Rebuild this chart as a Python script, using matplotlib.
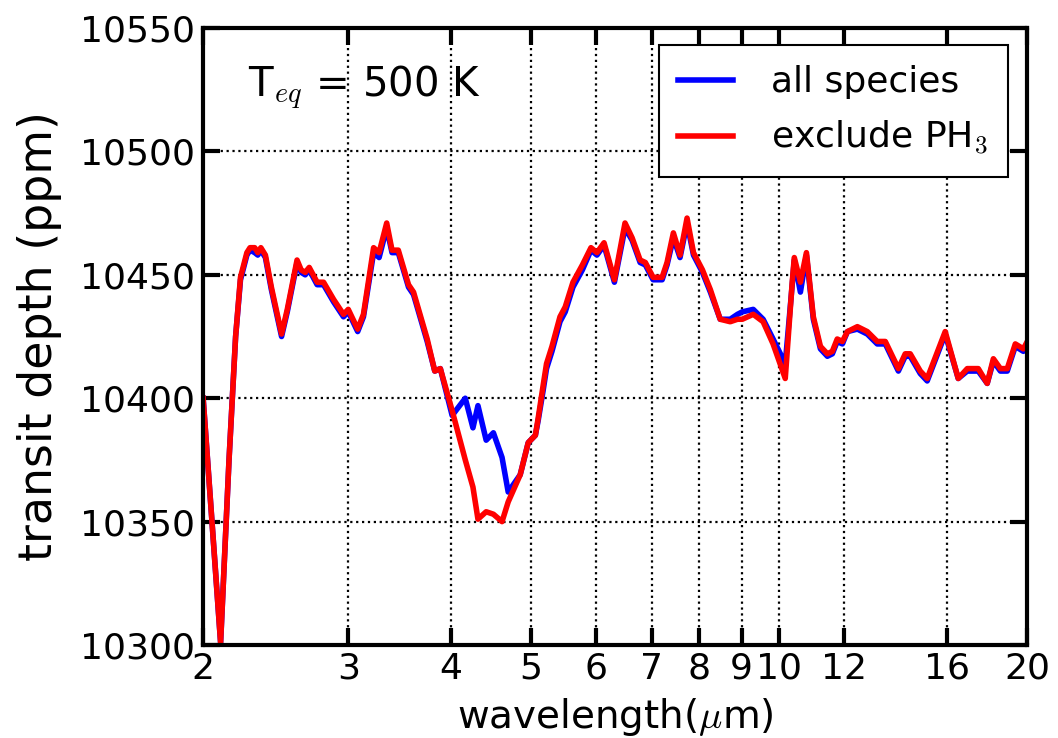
import matplotlib
matplotlib.use("Agg")
import matplotlib.pyplot as plt
from matplotlib.ticker import FixedLocator, FixedFormatter, NullLocator

# wavelength grid (micron) and transit depths (ppm)
wavelength = [2.00, 2.05, 2.10, 2.15, 2.19, 2.22, 2.26, 2.28, 2.31, 2.33,
              2.35, 2.38, 2.42, 2.49, 2.53, 2.60, 2.63, 2.66, 2.69, 2.75,
              2.80, 2.88, 2.96, 3.00, 3.08, 3.13, 3.22, 3.27, 3.34, 3.39,
              3.45, 3.55, 3.60, 3.74, 3.82, 3.88, 4.01, 4.16, 4.25, 4.31,
              4.41, 4.50, 4.61, 4.69, 4.85, 4.96, 5.06, 5.10, 5.17, 5.22,
              5.30, 5.42, 5.50, 5.62, 5.77, 5.91, 6.01, 6.13, 6.31, 6.50,
              6.63, 6.78, 6.88, 7.03, 7.21, 7.31, 7.44, 7.58, 7.73, 7.87,
              8.07, 8.25, 8.48, 8.72, 8.90, 9.02, 9.30, 9.56, 9.83, 10.17,
              10.37, 10.43, 10.61, 10.79, 11.00, 11.22, 11.44, 11.60, 11.76, 11.93,
              12.10, 12.44, 12.79, 13.15, 13.45, 13.95, 14.22, 14.42, 14.83, 15.12,
              15.90, 16.49, 16.91, 17.44, 17.88, 18.19, 18.55, 18.91, 19.34, 19.78,
              20.00]

depth_no_ph3 = [10400, 10350, 10301, 10375, 10425, 10449, 10459, 10461, 10461, 10459,
                10461, 10458, 10445, 10426, 10436, 10456, 10452, 10451, 10453, 10447,
                10447, 10440, 10434, 10436, 10428, 10434, 10461, 10459, 10471, 10460,
                10460, 10446, 10443, 10424, 10411, 10412, 10395, 10375, 10364, 10351,
                10354, 10353, 10350, 10358, 10369, 10382, 10385, 10392, 10405, 10414,
                10421, 10433, 10437, 10447, 10454, 10461, 10459, 10463, 10448, 10471,
                10465, 10456, 10455, 10449, 10449, 10455, 10467, 10458, 10473, 10459,
                10452, 10444, 10432, 10431, 10432, 10432, 10434, 10431, 10422, 10408,
                10447, 10457, 10447, 10459, 10433, 10421, 10418, 10419, 10424, 10423,
                10427, 10429, 10427, 10423, 10423, 10412, 10418, 10418, 10411, 10408,
                10427, 10408, 10412, 10412, 10406, 10416, 10412, 10412, 10422, 10420,
                10423]

depth_all = [10400, 10350, 10301, 10375, 10425, 10448, 10458, 10460, 10459, 10458,
             10460, 10457, 10444, 10425, 10435, 10455, 10451, 10450, 10452, 10446,
             10446, 10439, 10433, 10435, 10427, 10433, 10459, 10457, 10469, 10459,
             10459, 10445, 10442, 10423, 10411, 10412, 10393, 10400, 10388, 10397,
             10383, 10386, 10376, 10362, 10369, 10382, 10385, 10391, 10403, 10412,
             10419, 10431, 10435, 10445, 10452, 10460, 10458, 10462, 10447, 10469,
             10464, 10455, 10454, 10448, 10448, 10454, 10465, 10457, 10471, 10458,
             10451, 10443, 10432, 10432, 10434, 10435, 10436, 10432, 10424, 10414,
             10446, 10456, 10443, 10458, 10432, 10420, 10417, 10418, 10423, 10422,
             10427, 10428, 10426, 10422, 10422, 10411, 10417, 10417, 10410, 10407,
             10426, 10408, 10411, 10411, 10406, 10415, 10411, 10411, 10421, 10419,
             10422]

xticks = [2, 3, 4, 5, 6, 7, 8, 9, 10, 12, 16, 20]
yticks = [10300, 10350, 10400, 10450, 10500, 10550]

plt.rcParams["font.family"] = ["DejaVu Sans"]
plt.rcParams["mathtext.fontset"] = "cm"

fig = plt.figure(figsize=(10.58, 7.38), dpi=100)
ax = fig.add_axes([0.192, 0.126, 0.779, 0.836])

ax.plot(wavelength, depth_all, color="#0000ff", lw=4,
        solid_joinstyle="round", label="all species")
ax.plot(wavelength, depth_no_ph3, color="#ff0000", lw=4,
        solid_joinstyle="round", label="exclude PH$_3$")

ax.set_xscale("log")
ax.set_xlim(2, 20)
ax.set_ylim(10300, 10550)
ax.xaxis.set_major_locator(FixedLocator(xticks))
ax.xaxis.set_major_formatter(FixedFormatter([str(t) for t in xticks]))
ax.xaxis.set_minor_locator(NullLocator())
ax.set_yticks(yticks)

ax.tick_params(which="major", direction="in", length=12, width=3,
               top=True, right=True, labelsize=26)
ax.tick_params(axis="x", pad=5)
ax.tick_params(axis="y", pad=6)
for s in ax.spines.values():
    s.set_linewidth(3)

ax.grid(True, color="black", linestyle=":", linewidth=1.6)

ax.set_xlabel("wavelength($\\mu$m)", fontsize=28)
ax.set_ylabel("transit depth (ppm)", fontsize=33)
ax.xaxis.set_label_coords(0.5, -0.083)
ax.yaxis.set_label_coords(-0.171, 0.5)

ax.text(0.055, 0.903, "T$_{eq}$ = 500 K", transform=ax.transAxes,
        ha="left", va="center", fontsize=29)

leg = ax.legend(loc="upper right", bbox_to_anchor=(0.976, 0.972),
                borderaxespad=0, fontsize=26, handlelength=1.5,
                handletextpad=1.05, borderpad=0.55, labelspacing=0.55,
                fancybox=False, framealpha=1)
leg.get_frame().set_edgecolor("black")
leg.get_frame().set_linewidth(1.5)
for line in leg.get_lines():
    line.set_linewidth(4)

fig.savefig("out.png", dpi=100)
